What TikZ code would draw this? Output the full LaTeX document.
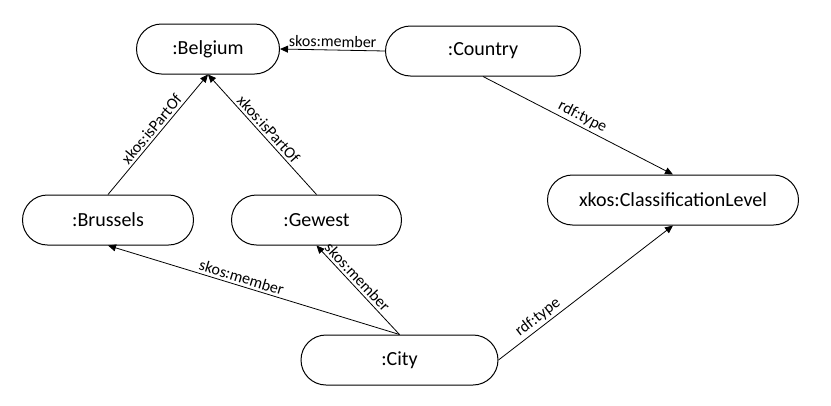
\documentclass[tikz,border=0pt]{standalone}
\usepackage{fontspec}
\setmainfont{Carlito}
\usetikzlibrary{arrows.meta,positioning}

\tikzset{
  concept/.style = {draw, line width=1pt, rounded corners=25pt, minimum height=50pt,
                    inner sep=0pt, font=\fontsize{20}{24}\selectfont},
  rel/.style     = {line width=0.8pt, -{Triangle[length=8pt,width=7pt]}},
  lbl/.style     = {above, sloped, inner sep=2.5pt, font=\fontsize{16}{19}\selectfont},
}

\begin{document}
\begin{tikzpicture}
    \useasboundingbox (0pt,0pt) rectangle (831pt,-405pt);
    % Concepten
    \node[concept, minimum width=143pt] (belgium) at (208pt,-49pt) {:Belgium};
    \node[concept, minimum width=195pt, right=105pt of belgium, yshift=-2pt] (country) {:Country};
    \node[concept, minimum width=171pt, below=120pt of belgium, xshift=-100pt] (brussels) {:Brussels};
    \node[concept, minimum width=170pt, right=37pt of brussels] (gewest) {:Gewest};
    \node[concept, minimum width=197pt, below=89pt of gewest, xshift=83pt] (city) {:City};
    \node[concept, minimum width=251pt, below=98pt of country, xshift=190pt] (level) {xkos:ClassificationLevel};

    % Relaties
    \draw[rel] (country.west) -- node[lbl] {skos:member} (belgium.east);
    \draw[rel] (brussels.north) -- node[lbl] {xkos:isPartOf} (belgium.south);
    \draw[rel] (gewest.north) -- node[lbl] {xkos:isPartOf} (belgium.south);
    \draw[rel] (city.north) -- node[lbl, pos=0.55] {skos:member} (brussels.south);
    \draw[rel] (city.north) -- node[lbl, pos=0.58] {skos:member} (gewest.south);
    \draw[rel] (country.south) -- node[lbl] {rdf:type} (level.north);
    \draw[rel] (city.east) -- node[lbl, pos=0.26] {rdf:type} (level.south);
\end{tikzpicture}
\end{document}
